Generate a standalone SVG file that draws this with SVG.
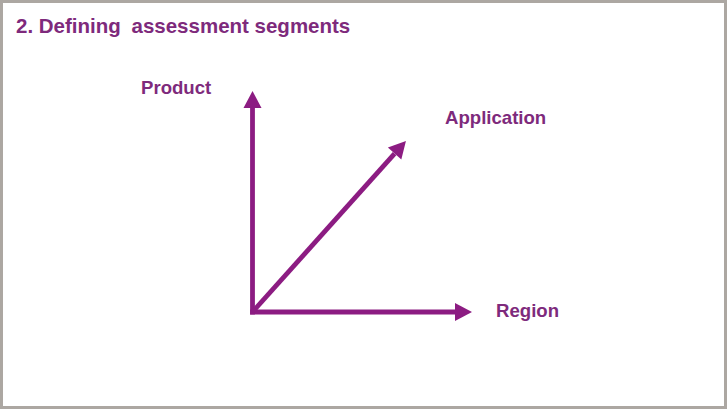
<svg xmlns="http://www.w3.org/2000/svg" width="727" height="409" viewBox="0 0 727 409">
  <style>
    .title { font-family: "Liberation Sans", Arial, sans-serif; font-weight: bold; font-size: 20.5px; fill: #7e2a7c; }
    .label { font-family: "Liberation Sans", Arial, sans-serif; font-weight: bold; font-size: 18.6px; fill: #7e2a7c; }
    .axis { stroke: #8c1c82; stroke-width: 4.8; fill: none; }
  </style>
  <defs>
    <marker id="head" markerUnits="userSpaceOnUse" markerWidth="17" markerHeight="18" refX="0" refY="9" orient="auto" overflow="visible">
      <path d="M0,0 L17,9 L0,18 Z" fill="#8c1c82"/>
    </marker>
  </defs>
  <rect x="0" y="0" width="727" height="409" fill="#ffffff"/>
  <rect x="1.5" y="1.5" width="724" height="406" fill="none" stroke="#aca7a2" stroke-width="3"/>

  <g id="title">
    <text class="title" x="16" y="33">2. Defining<tspan dx="5"> assessment segments</tspan></text>
  </g>

  <g id="connectors">
    <line class="axis" x1="252.5" y1="314.4" x2="252.5" y2="108" marker-end="url(#head)"/>
    <line class="axis" x1="250.1" y1="312" x2="455" y2="312" marker-end="url(#head)"/>
    <line class="axis" x1="252.5" y1="312" x2="394.6" y2="153.6" marker-end="url(#head)"/>
  </g>

  <g id="node-product">
    <text class="label" x="141" y="94">Product</text>
  </g>
  <g id="node-application">
    <text class="label" x="445" y="124">Application</text>
  </g>
  <g id="node-region">
    <text class="label" x="496" y="317">Region</text>
  </g>
</svg>
